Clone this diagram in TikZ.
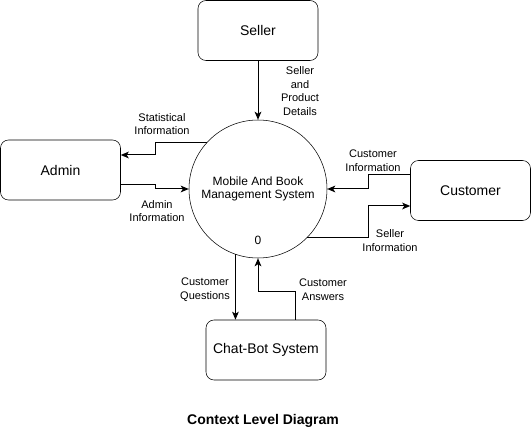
\documentclass[tikz,border=0pt]{standalone}
\usepackage{fontspec}
\setmainfont{Liberation Sans}
\usetikzlibrary{arrows.meta}

\begin{document}
\begin{tikzpicture}[x=0.75pt,y=-0.75pt,
  entity/.style={draw=black,rounded corners=6pt,minimum width=90pt,minimum height=45pt,inner sep=0pt,font=\fontsize{10.5}{12.6}\selectfont},
  process/.style={draw=black,circle,minimum size=103.5pt,inner sep=0pt,align=center,font=\fontsize{9}{10}\selectfont},
  flowlabel/.style={align=center,inner sep=0pt,font=\fontsize{8.25}{10.2}\selectfont},
  flow/.style={draw=black,line width=0.75pt,-{Stealth[length=6pt,width=5pt,inset=1.5pt]}}]
\useasboundingbox (0,0) rectangle (532,431);

\node[entity] (seller) at (258,30.5) {Seller};
\node[entity] (admin) at (60.5,170) {Admin};
\node[entity] (customer) at (470.5,190.5) {Customer};
\node[entity] (chatbot) at (266,350) {Chat-Bot System};
\node[process] (sys) at (258,189) {Mobile And Book\\Management System};
\node[font=\fontsize{9}{10}\selectfont] (sysid) at (258,240) {0};

\draw[flow] (seller) -- (sys);
\draw[flow] (sys.138) -| (155,155) -- (admin.east |- 155,155);
\draw[flow] (admin.east |- 0,185) -- (155,185) |- (sys.west);
\draw[flow] (customer.west |- 0,175) -- (368,175) |- (sys.east);
\draw[flow] (sys.-45) -| (368,206) -- (customer.west |- 0,206);
\draw[flow] (sys.251.4) -- (sys.251.4 |- chatbot.north);
\draw[flow] (chatbot.north -| 295,0) |- (258,291) -- (sys.south);

\node[flowlabel] (lseller) at (300,91) {Seller\\and\\Product\\Details};
\node[flowlabel] (lstat) at (162,124) {Statistical\\Information};
\node[flowlabel] (ladmin) at (157,211) {Admin\\Information};
\node[flowlabel] (lcust) at (373,160.5) {Customer\\Information};
\node[flowlabel] (lsinfo) at (390,240.5) {Seller\\Information};
\node[flowlabel] (lques) at (205,289.5) {Customer\\Questions};
\node[flowlabel] (lans) at (323,289.5) {Customer\\Answers};

\node[font=\bfseries\fontsize{10.5}{12}\selectfont] (title) at (263,421) {Context Level Diagram};
\end{tikzpicture}
\end{document}
